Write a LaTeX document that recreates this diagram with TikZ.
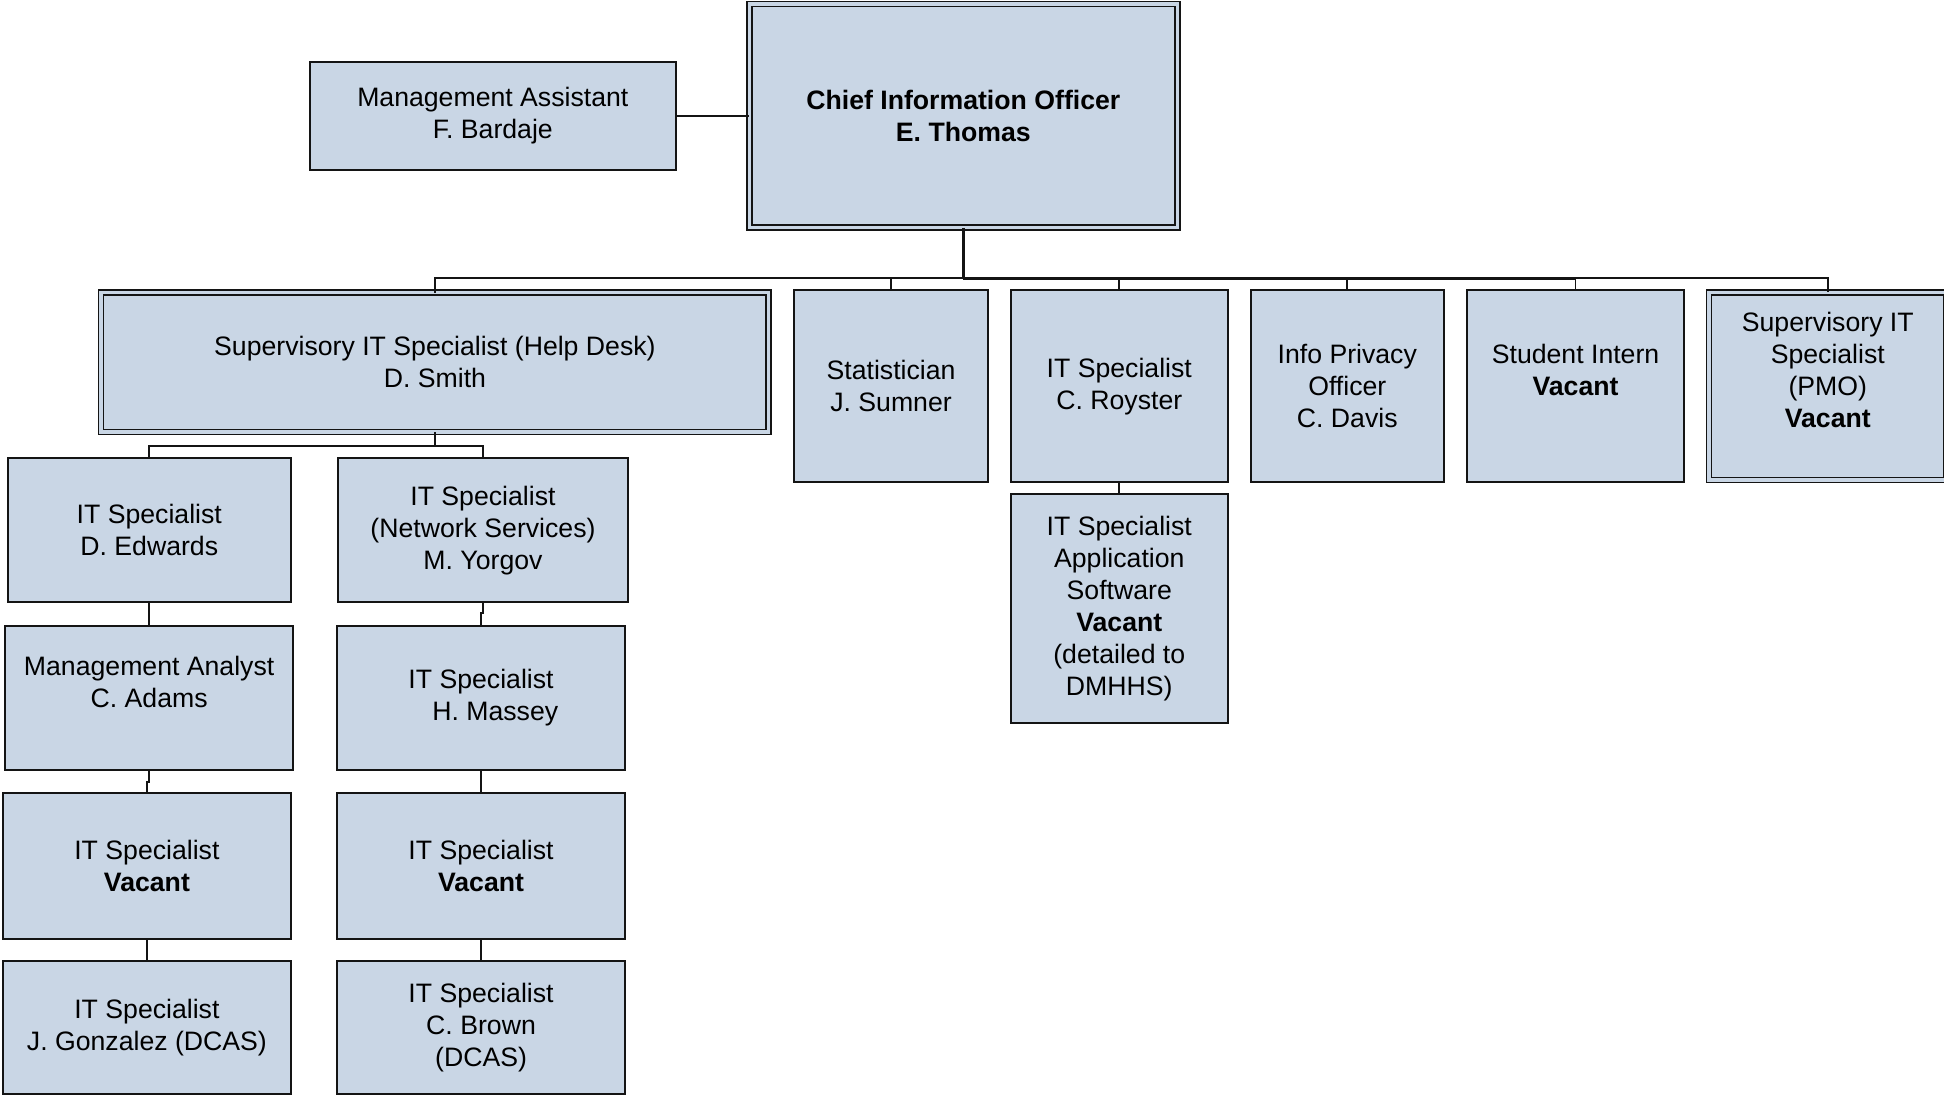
\documentclass[tikz,border=0pt]{standalone}
\usepackage{fontspec}
\setmainfont{Liberation Sans}
\definecolor{boxfill}{RGB}{201,214,229}
\definecolor{linec}{RGB}{20,20,20}
\tikzset{
  box/.style={draw=linec, fill=boxfill, line width=1.5pt, inner sep=0pt, outer sep=0pt,
    align=center, font=\fontsize{21.5}{25.8}\selectfont},
  dbox/.style={box, line width=1.4pt, double=boxfill, double distance=2.6pt},
  conn/.style={draw=linec, line width=1.5pt},
  stem/.style={draw=linec, line width=2.1pt}
}
\begin{document}
\begin{tikzpicture}[x=1pt,y=-1pt]
\path[fill=white] (0,0) rectangle (1568,884);
\useasboundingbox (0,0) rectangle (1568,884);

% top level
\node[dbox, minimum width=345.4, minimum height=180.4] (CIO) at (777,93.5)
  {\textbf{Chief Information Officer}\\\textbf{E. Thomas}};
\node[box, minimum width=295, minimum height=87] (MA) at (397.5,93.5)
  {Management Assistant\\F. Bardaje};

% second row
\node[dbox, minimum width=538.6, minimum height=112.5] (HD) at (350.8,292.2)
  {Supervisory IT Specialist (Help Desk)\\D. Smith};
\node[box, minimum width=155.9, minimum height=155.1] (ST) at (718.7,311.5)
  {Statistician\\J. Sumner};
\node[box, minimum width=175, minimum height=155.1] (RO) at (902.8,311.5)
  {IT Specialist\\C. Royster};
\node[box, minimum width=155.7, minimum height=155.1] (IP) at (1086.7,311.5)
  {Info Privacy\\Officer\\C. Davis};
\node[box, minimum width=175, minimum height=155.1] (SI) at (1270.8,311.5)
  {Student Intern\\\textbf{Vacant}\\\mbox{}};
\node[dbox, minimum width=191.5, minimum height=151.3] (PMO) at (1474.25,311.5)
  {Supervisory IT\\Specialist\\(PMO)\\\textbf{Vacant}\\\mbox{}};

% under Royster
\node[box, minimum width=175, minimum height=184.4] (AS) at (902.8,490.7)
  {IT Specialist\\Application\\Software\\\textbf{Vacant}\\(detailed to\\DMHHS)};

% help desk columns
\node[box, minimum width=228.4, minimum height=116.1] (ED) at (120.4,427.75)
  {IT Specialist\\D. Edwards};
\node[box, minimum width=233.3, minimum height=116.1] (YO) at (389.55,427.75)
  {IT Specialist\\(Network Services)\\M. Yorgov};
\node[box, minimum width=232.4, minimum height=116.1] (MN) at (120.3,563)
  {Management Analyst\\C. Adams\\\mbox{}};
\node[box, minimum width=232.5, minimum height=116.1] (MS) at (388,563)
  {IT Specialist\\\hspace*{23pt}H. Massey};
\node[box, minimum width=232.4, minimum height=117.5] (V1) at (118.5,698.65)
  {IT Specialist\\\textbf{Vacant}};
\node[box, minimum width=232.4, minimum height=117.5] (V2) at (388,698.65)
  {IT Specialist\\\textbf{Vacant}};
\node[box, minimum width=232.4, minimum height=107.5] (GO) at (118.5,828.65)
  {IT Specialist\\J. Gonzalez (DCAS)};
\node[box, minimum width=232.4, minimum height=107.5] (BR) at (388,828.65)
  {IT Specialist\\C. Brown\\(DCAS)};

% connectors
\coordinate (bus) at (777,224.5);
\coordinate (hdbus) at (350.8,359.7);
\draw[conn] (MA.east) -- (MA.east -| CIO.west);
\draw[conn] (bus) -| (HD.north);
\draw[conn] (bus) -| (ST.north);
\draw[conn] (bus) -| (RO.north);
\draw[conn] (bus) -| (IP.north);
\draw[conn] (bus) -| (SI.north);
\draw[conn] (bus) -| (PMO.north);
\draw[stem] (CIO.south) -- (bus);
\draw[line width=1.9pt, draw=linec] (bus) -- (bus -| SI.north);
\draw[conn] (RO.south) -- (AS.north);
\draw[conn] (HD.south) -- (hdbus);
\draw[conn] (hdbus) -| (ED.north);
\draw[conn] (hdbus) -| (YO.north);
\draw[conn] (ED.south) -- (ED.south |- MN.north);
\draw[conn] (YO.south) -- ++(0,8.9) -| (MS.north);
\draw[conn] (MN.south) -- ++(0,9.5) -| (V1.north);
\draw[conn] (MS.south) -- (V2.north);
\draw[conn] (V1.south) -- (GO.north);
\draw[conn] (V2.south) -- (BR.north);
\end{tikzpicture}
\end{document}
